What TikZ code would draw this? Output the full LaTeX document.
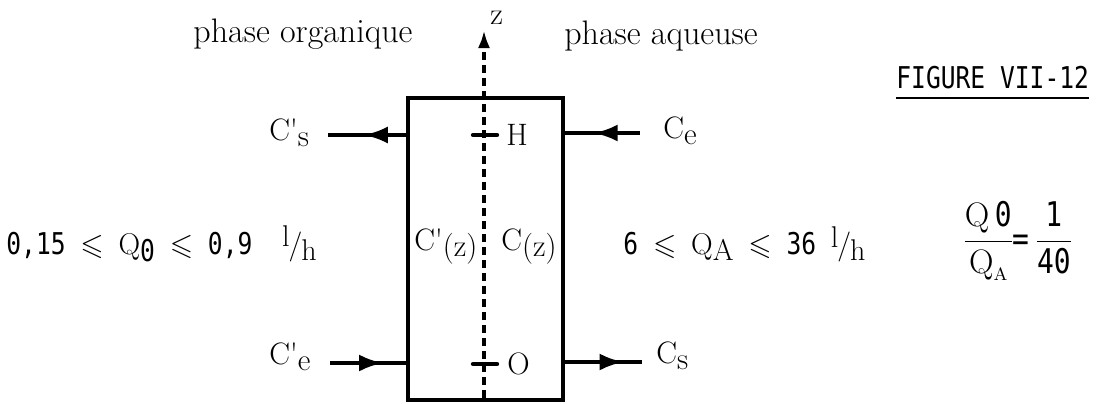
\documentclass[tikz,border=0pt]{standalone}
\usepackage{amsmath,amssymb}
\usepackage{fontspec}
\newfontfamily\twfont[FakeStretch=0.82]{DejaVu Sans Mono}
\usetikzlibrary{arrows.meta,decorations.markings}
\newcommand{\lowr}[1]{\raisebox{-0.45ex}{#1}}
\newcommand{\lph}{\raisebox{0.55ex}{l}\kern-0.5pt/\kern-0.5pt\raisebox{-0.5ex}{h}}
\newcommand{\pr}{\textquotesingle}
\tikzset{
  colbox/.style={draw,line width=2.2pt,minimum width=77.5pt,minimum height=151pt,inner sep=0pt},
  flow/.style={line width=2pt,postaction={decorate},decoration={markings,
      mark=at position #1 with {\arrow{Latex[length=12pt,width=8.5pt]}}}}, % arrowhead mid-line
  zaxis/.style={line width=1.8pt,dash pattern=on 4pt off 2.5pt,-{Latex[length=9pt,width=6pt]}},
  htick/.style={line width=2.2pt,line cap=round},
  lbl/.style={font=\fontsize{15.5}{18}\selectfont,inner sep=0pt},
  phlbl/.style={font=\fontsize{17}{20}\selectfont,inner sep=0pt},
  tw/.style={font=\twfont\fontsize{15}{18}\selectfont,inner sep=0pt},
}

\begin{document}
\begin{tikzpicture}[x=0.5pt,y=-0.5pt]
  \useasboundingbox (0,0) rectangle (1106,403);
  % column
  \node[colbox] (col) at (485.5,249) {};
  \coordinate (zb) at (484,398);
  \coordinate (zt) at (484,30);
  \draw[zaxis] (zb) -- (zt);
  \node[lbl,anchor=west] (zl) at (490,18) {z};
  % levels H and O
  \draw[htick] (473,135) -- (497,135);
  \draw[htick] (473,364) -- (497,364);
  \node[lbl,anchor=west] (H) at (506,135) {H};
  \node[lbl,anchor=west] (O) at (507,364) {O};
  % phases
  \node[phlbl] (org) at (303,34) {phase organique};
  \node[phlbl] (aq) at (661,36) {phase aqueuse};
  \node[tw,anchor=west] (fig) at (896,78) {FIGURE VII-12};
  \draw[line width=1pt] ([yshift=-4pt]fig.south west) -- ([yshift=-4pt]fig.south east);
  % inlets / outlets
  \node[lbl,anchor=west] (Cps) at (269,133) {C\pr\lowr{s}};
  \node[lbl,anchor=west] (Ce) at (663,131) {C\lowr{e}};
  \node[lbl,anchor=west] (Cpe) at (269,357) {C\pr\lowr{e}};
  \node[lbl,anchor=west] (Cs) at (656,356) {C\lowr{s}};
  \coordinate (ps) at (328,135);
  \coordinate (pe) at (330,363);
  \coordinate (ae) at (640,133);
  \coordinate (as) at (642,362);
  \draw[flow=0.54] (col.west |- ps) -- (ps);
  \draw[flow=0.62] (ae) -- (col.east |- ae);
  \draw[flow=0.70] (pe) -- (col.west |- pe);
  \draw[flow=0.76] (col.east |- as) -- (as);
  % concentrations
  \node[lbl,anchor=west] (Cpz) at (414,247) {C\pr\lowr{(z)}};
  \node[lbl,anchor=west] (Cz) at (501,247) {C\lowr{(z)}};
  % flow rates
  \node[tw,anchor=west] (QO) at (6,244)
    {0,15 $\leqslant$ {\rmfamily Q}\lowr{0} $\leqslant$ 0,9\ \ {\rmfamily\lph}};
  \node[tw,anchor=west] (QA) at (623,244)
    {6 $\leqslant$ {\rmfamily Q\lowr{A}}\ $\leqslant$ 36\ {\rmfamily\lph}};
  \node[tw,anchor=west,font=\twfont\fontsize{17}{20}\selectfont] (rat) at (962,241)
    {$\genfrac{}{}{0.8pt}{0}{\mbox{\rmfamily Q\,{\twfont 0}}}{\mbox{\rmfamily Q\lowr{\small A}}}$\kern-1pt=\,$\genfrac{}{}{0.8pt}{0}{\mbox{\twfont 1}}{\mbox{\twfont 40}}$};
\end{tikzpicture}
\end{document}
